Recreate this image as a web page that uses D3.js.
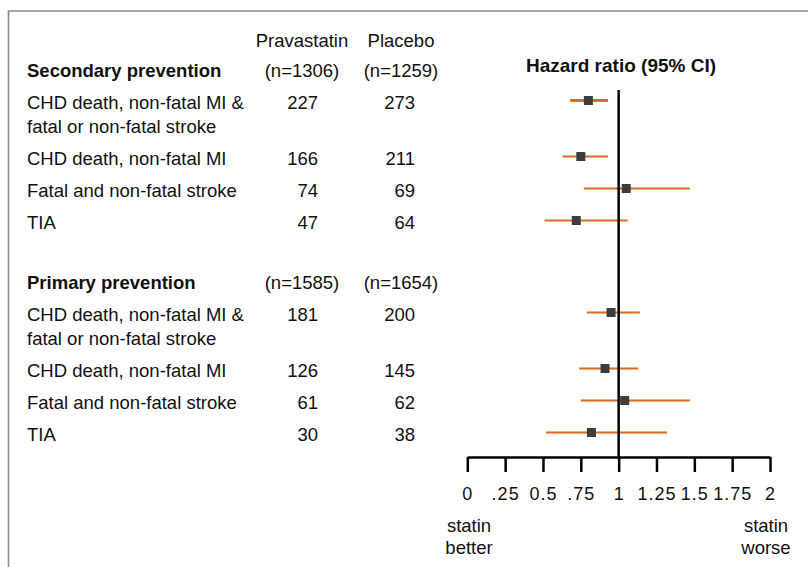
<!DOCTYPE html>
<html>
<head>
<meta charset="utf-8">
<script src="https://cdn.jsdelivr.net/npm/d3@7/dist/d3.min.js"></script>
<style>
  body { margin: 0; background: #fff; }
  text { font-family: "Liberation Sans", Arial, sans-serif; fill: #111; }
</style>
</head>
<body>
<svg id="chart"></svg>
<script>
// outcome labels (shared by both sections)
var outcomes = [
  ['CHD death, non-fatal MI &', 'fatal or non-fatal stroke'],
  ['CHD death, non-fatal MI'],
  ['Fatal and non-fatal stroke'],
  ['TIA']
];

var sections = ['Secondary prevention', 'Primary prevention'];
var groupN = [['(n=1306)', '(n=1259)'], ['(n=1585)', '(n=1654)']];

// events
var secPrava = [227, 166, 74, 47];
var secPlacebo = [273, 211, 69, 64];
var priPrava = [181, 126, 61, 30];
var priPlacebo = [200, 145, 62, 38];

// hazard ratios with 95% CI
var secHR = [0.80, 0.75, 1.05, 0.72];
var secLo = [0.68, 0.63, 0.77, 0.51];
var secHi = [0.93, 0.93, 1.47, 1.06];
var priHR = [0.95, 0.91, 1.04, 0.82];
var priLo = [0.79, 0.74, 0.75, 0.52];
var priHi = [1.14, 1.13, 1.47, 1.32];

var tickVals = [0, 0.25, 0.5, 0.75, 1, 1.25, 1.5, 1.75, 2];
var tickLabels = ['0', '.25', '0.5', '.75', '1', '1.25', '1.5', '1.75', '2'];

var width = 808, height = 567;
var svg = d3.select('#chart').attr('width', width).attr('height', height);

// frame (left and top only)
svg.append('path')
  .attr('d', 'M8.5,567V11H808')
  .attr('fill', 'none')
  .attr('stroke', '#8c8c8c')
  .attr('stroke-width', 1.6);

var x = d3.scaleLinear().domain([0, 2]).range([467.3, 770]);
var axisY = 457;

var fs = 18.5;
var labelX = 27, col1 = 302, col2 = 401, num1 = 318, num2 = 415;

// build rows with a simple layout cursor
var rows = [];
var headers = [];
var cursor = 70;
var data = [
  {prava: secPrava, placebo: secPlacebo, hr: secHR, lo: secLo, hi: secHi},
  {prava: priPrava, placebo: priPlacebo, hr: priHR, lo: priLo, hi: priHi}
];
data.forEach(function(s, si) {
  if (si > 0) cursor += 60;
  headers.push({name: sections[si], n: groupN[si], y: cursor});
  outcomes.forEach(function(lbl, i) {
    cursor += 32;
    rows.push({label: lbl, prava: s.prava[i], placebo: s.placebo[i],
      hr: s.hr[i], lo: s.lo[i], hi: s.hi[i], y: cursor});
    cursor += (lbl.length - 1) * 24;
  });
});

var base = 6.5;

// column headings
svg.append('text').attr('x', col1).attr('y', 40 + base)
  .attr('text-anchor', 'middle').attr('font-size', fs).text('Pravastatin');
svg.append('text').attr('x', col2).attr('y', 40 + base)
  .attr('text-anchor', 'middle').attr('font-size', fs).text('Placebo');

headers.forEach(function(h) {
  svg.append('text').attr('x', labelX).attr('y', h.y + base)
    .attr('font-size', fs).attr('font-weight', 'bold').text(h.name);
  svg.append('text').attr('x', col1).attr('y', h.y + base)
    .attr('text-anchor', 'middle').attr('font-size', fs).text(h.n[0]);
  svg.append('text').attr('x', col2).attr('y', h.y + base)
    .attr('text-anchor', 'middle').attr('font-size', fs).text(h.n[1]);
});

var rowG = svg.selectAll('.row').data(rows).enter().append('g').attr('class', 'row');

rowG.append('text')
  .attr('x', labelX)
  .attr('y', function(d) { return d.y + base; })
  .attr('font-size', fs)
  .selectAll('tspan')
  .data(function(d) { return d.label; })
  .enter().append('tspan')
  .attr('x', labelX)
  .attr('dy', function(d, i) { return i ? 24 : 0; })
  .text(function(d) { return d; });

rowG.append('text')
  .attr('x', num1).attr('y', function(d) { return d.y + base; })
  .attr('text-anchor', 'end').attr('font-size', fs)
  .text(function(d) { return d.prava; });
rowG.append('text')
  .attr('x', num2).attr('y', function(d) { return d.y + base; })
  .attr('text-anchor', 'end').attr('font-size', fs)
  .text(function(d) { return d.placebo; });

// title
svg.append('text').attr('x', 621).attr('y', 65 + base)
  .attr('text-anchor', 'middle').attr('font-size', 19).attr('font-weight', 'bold')
  .text('Hazard ratio (95% CI)');

// reference line at 1
svg.append('line')
  .attr('x1', x(1)).attr('x2', x(1))
  .attr('y1', 90).attr('y2', axisY)
  .attr('stroke', '#000').attr('stroke-width', 2.5);

// CI lines
rowG.append('line')
  .attr('x1', function(d) { return x(d.lo); })
  .attr('x2', function(d) { return x(d.hi); })
  .attr('y1', function(d) { return d.y - 1.5; })
  .attr('y2', function(d) { return d.y - 1.5; })
  .attr('stroke', '#dd6b1f')
  .attr('stroke-width', function(d, i) { return i === 0 ? 3 : 2.2; });

// point estimates
var sq = 9;
rowG.append('rect')
  .attr('x', function(d) { return x(d.hr) - sq / 2; })
  .attr('y', function(d) { return d.y - 1.5 - sq / 2; })
  .attr('width', sq).attr('height', sq)
  .attr('fill', '#3d3d3d');

// axis
var xAxis = d3.axisBottom(x)
  .tickValues(tickVals)
  .tickFormat(function(d, i) { return tickLabels[i]; })
  .tickSize(15)
  .tickSizeOuter(0)
  .tickPadding(15);

var ax = svg.append('g')
  .attr('transform', 'translate(0,' + axisY + ')')
  .call(xAxis);
ax.select('.domain').attr('stroke', '#000').attr('stroke-width', 2.5);
ax.selectAll('.tick line').attr('stroke', '#000').attr('stroke-width', 2.5);
ax.selectAll('.tick text')
  .attr('font-size', 18)
  .attr('font-family', '"Liberation Sans", Arial, sans-serif')
  .attr('fill', '#111')
  .style('letter-spacing', '1px');

// end captions
var capL = ['statin', 'better'], capR = ['statin', 'worse'];
capL.forEach(function(t, i) {
  svg.append('text').attr('x', 469).attr('y', 525 + i * 22 + base)
    .attr('text-anchor', 'middle').attr('font-size', fs).text(t);
});
capR.forEach(function(t, i) {
  svg.append('text').attr('x', 766).attr('y', 525 + i * 22 + base)
    .attr('text-anchor', 'middle').attr('font-size', fs).text(t);
});
</script>
</body>
</html>
